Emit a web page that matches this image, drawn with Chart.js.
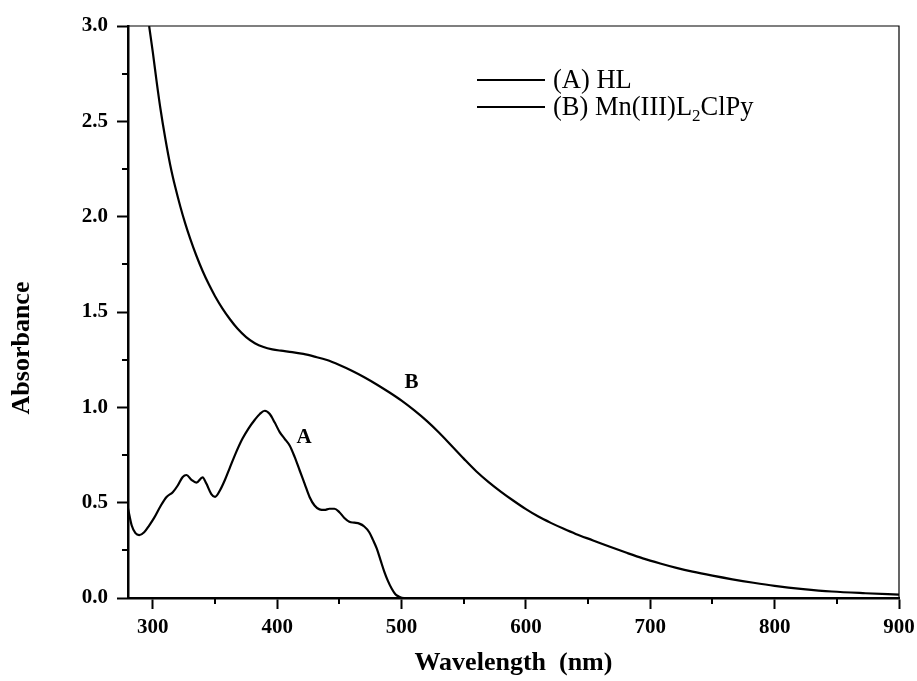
<!DOCTYPE html>
<html><head><meta charset="utf-8">
<script src="https://cdn.jsdelivr.net/npm/chart.js@4/dist/chart.umd.min.js"></script>
<style>html,body{margin:0;padding:0;background:#fff;}canvas{display:block;}</style>
</head><body>
<canvas id="c" width="917" height="681"></canvas>
<script>
// ---- data ----
const wavelengthA = [280,283,286,289,293,297,301,306,311,316,320,324,327,331,335,340,343,347,350,354,358,362,367,372,377,382,386,390,394,398,402,406,410,414,418,422,426,430,434,438,442,446,450,454,458,462,466,470,474,477,480,483,486,489,492,495,498,502,505];
const absorbanceA = [0.47,0.38,0.34,0.33,0.345,0.38,0.42,0.48,0.53,0.555,0.59,0.635,0.645,0.62,0.605,0.633,0.60,0.545,0.53,0.565,0.62,0.685,0.765,0.835,0.89,0.935,0.965,0.982,0.965,0.92,0.87,0.835,0.80,0.74,0.67,0.60,0.53,0.485,0.465,0.462,0.468,0.468,0.45,0.42,0.40,0.395,0.39,0.375,0.345,0.305,0.26,0.20,0.14,0.09,0.05,0.02,0.007,0.0,0.0];
const wavelengthB = [297,300,303,306,310,314,318,322,326,330,335,340,345,350,356,362,368,375,382,389,396,403,412,421,430,440,450,460,470,480,490,500,510,520,530,540,550,560,570,580,590,600,610,620,630,640,654,667,681,694,708,721,734,750,766,783,800,823,846,873,900];
const absorbanceB = [3.0,2.86,2.71,2.57,2.41,2.27,2.155,2.055,1.965,1.885,1.795,1.715,1.645,1.583,1.518,1.462,1.413,1.368,1.336,1.316,1.304,1.297,1.29,1.28,1.266,1.248,1.222,1.192,1.158,1.12,1.079,1.035,0.985,0.93,0.868,0.8,0.731,0.665,0.608,0.557,0.51,0.466,0.427,0.394,0.364,0.336,0.302,0.27,0.237,0.208,0.181,0.158,0.138,0.117,0.098,0.08,0.064,0.047,0.034,0.025,0.018];
const xMajorTicks = [300,400,500,600,700,800,900];
const xMinorTicks = [350,450,550,650,750,850];
const yMajorTicks = [0,0.5,1.0,1.5,2.0,2.5,3.0];
const yMinorTicks = [0.25,0.75,1.25,1.75,2.25,2.75];
const seriesLabels = ['(A) HL','(B) Mn(III)L2ClPy'];
const legendParts = [[['(A) HL',false]],[['(B) Mn(III)L',false],['2',true],['ClPy',false]]];
const curveLabels = ['A','B'];
const curveLabelX = [421.5,508];
const curveLabelY = [0.84,1.13];
const xTitle = 'Wavelength  (nm)';
const yTitle = 'Absorbance';

const FONT = 'Liberation Serif, Times New Roman, serif';

const extras = {
  id:'extras',
  afterDraw(chart){
    const ctx = chart.ctx, ca = chart.chartArea;
    const xs = chart.scales.x, ys = chart.scales.y;
    ctx.save();
    ctx.strokeStyle = '#000';
    // thin top/right frame
    ctx.lineWidth = 1.2;
    ctx.beginPath();
    ctx.moveTo(ca.left, ca.top); ctx.lineTo(ca.right, ca.top); ctx.lineTo(ca.right, ca.bottom);
    ctx.stroke();
    // minor ticks
    ctx.lineWidth = 2;
    ctx.beginPath();
    xMinorTicks.forEach(v=>{const p = Math.round(xs.getPixelForValue(v)); ctx.moveTo(p, ca.bottom); ctx.lineTo(p, ca.bottom+6);});
    yMinorTicks.forEach(v=>{const p = Math.round(ys.getPixelForValue(v)); ctx.moveTo(ca.left, p); ctx.lineTo(ca.left-6, p);});
    ctx.stroke();
    // y title
    ctx.fillStyle = '#000';
    ctx.font = 'bold 26px ' + FONT;
    ctx.textAlign = 'center'; ctx.textBaseline = 'middle';
    ctx.save();
    ctx.translate(22, 348);
    ctx.rotate(-Math.PI/2);
    ctx.fillText(yTitle, 0, 0);
    ctx.restore();
    // curve labels
    ctx.font = 'bold 21px ' + FONT;
    curveLabels.forEach((t,i)=>{
      ctx.fillText(t, xs.getPixelForValue(curveLabelX[i]), ys.getPixelForValue(curveLabelY[i]));
    });
    // legend
    const lx0 = 477, lx1 = 545, tx = 553;
    const rows = [80, 107];
    ctx.textAlign = 'left'; ctx.textBaseline = 'alphabetic';
    legendParts.forEach((parts, i)=>{
      const y = rows[i];
      ctx.lineWidth = 2.2;
      ctx.beginPath(); ctx.moveTo(lx0, y); ctx.lineTo(lx1, y); ctx.stroke();
      let x = tx;
      parts.forEach(([txt, sub])=>{
        ctx.font = (sub ? '17px ' : '26.5px ') + FONT;
        ctx.fillText(txt, x, y + 8 + (sub ? 6 : 0));
        x += ctx.measureText(txt).width;
      });
    });
    ctx.restore();
  }
};

const tickFont = {family: FONT, weight:'bold', size:21};
new Chart(document.getElementById('c').getContext('2d'), {
  type:'line',
  data:{datasets:[
    {label:seriesLabels[0], data: wavelengthA.map((x,i)=>({x, y:absorbanceA[i]})), borderColor:'#000', borderWidth:2.2, pointRadius:0, cubicInterpolationMode:'monotone', fill:false},
    {label:seriesLabels[1], data: wavelengthB.map((x,i)=>({x, y:absorbanceB[i]})), borderColor:'#000', borderWidth:2.2, pointRadius:0, cubicInterpolationMode:'monotone', fill:false}
  ]},
  options:{
    responsive:false, animation:false, devicePixelRatio:1,
    layout:{padding:{top:26,right:18,left:0,bottom:0}},
    plugins:{legend:{display:false}, tooltip:{enabled:false}},
    scales:{
      x:{type:'linear', min:280, max:900,
        afterBuildTicks: s=>{ s.ticks = xMajorTicks.map(v=>({value:v})); },
        afterFit: s=>{ s.height = 83; s.paddingLeft = 0; s.paddingRight = 0; },
        grid:{drawOnChartArea:false, drawTicks:true, tickLength:11, tickWidth:2, tickColor:'#000'},
        border:{display:true, color:'#000', width:2.5},
        ticks:{color:'#000', font:tickFont, padding:6, maxRotation:0, autoSkip:false, callback:v=>String(v)},
        title:{display:true, text:xTitle, color:'#000', font:{family:FONT, weight:'bold', size:26}, padding:{top:0,bottom:2}}
      },
      y:{min:0, max:3,
        afterBuildTicks: s=>{ s.ticks = yMajorTicks.map(v=>({value:v})); },
        afterFit: s=>{ s.width = 128; s.paddingTop = 0; s.paddingBottom = 0; },
        grid:{drawOnChartArea:false, drawTicks:true, tickLength:11, tickWidth:2, tickColor:'#000'},
        border:{display:true, color:'#000', width:2.5},
        ticks:{color:'#000', font:tickFont, padding:9, autoSkip:false, callback:v=>Number(v).toFixed(1)}
      }
    }
  },
  plugins:[extras]
});
</script>
</body></html>
